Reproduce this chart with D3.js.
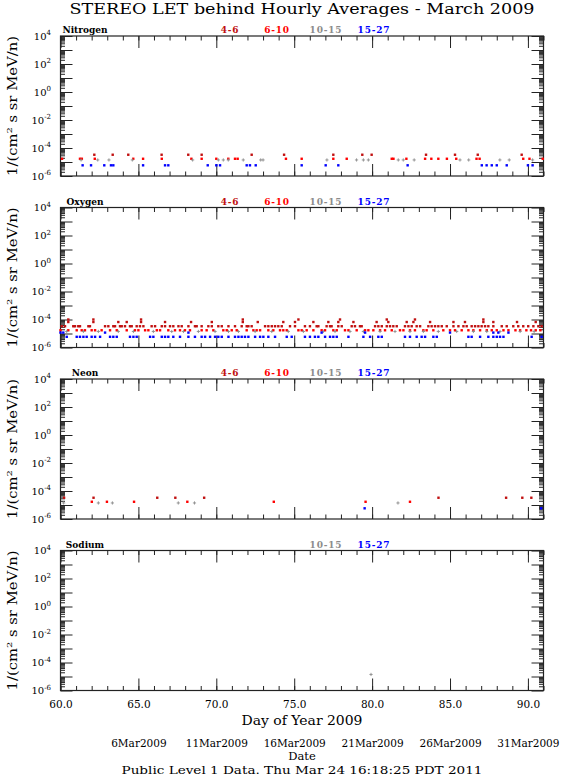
<!DOCTYPE html>
<html>
<head>
<meta charset="utf-8">
<script src="https://cdn.jsdelivr.net/npm/d3@7"></script>
<style>
  body { margin: 0; background: #fff; }
  text { font-family: "DejaVu Serif", serif; fill: #000; }
</style>
</head>
<body>
<div id="canvas"></div>
<script>
// axis values and labels
const dayDomain = [60, 91];
const xTickDays = [60, 65, 70, 75, 80, 85, 90];
const dateTickDays = [65, 70, 75, 80, 85, 90];
const dateTickLabels = ["6Mar2009", "11Mar2009", "16Mar2009", "21Mar2009", "26Mar2009", "31Mar2009"];
const fluxDomain = [1e-6, 1e4];
const yTickValues = [1e4, 1e2, 1e0, 1e-2, 1e-4, 1e-6];
const yTickExponents = ["4", "2", "0", "-2", "-4", "-6"];
const elementNames = ["Nitrogen", "Oxygen", "Neon", "Sodium"];
const binLabels = ["4-6", "6-10", "10-15", "15-27"];
const binColours = ["#c01010", "#ff0000", "#8c8c8c", "#0000ff"];
const panelBins = [[0, 1, 2, 3], [0, 1, 2, 3], [0, 1, 2, 3], [2, 3]];

// hourly averages, [day of year, flux]
const nitrogen46 = [[62.17,3.3e-5],[63.35,3.3e-5],[64.35,3.3e-5],[66.49,3.3e-5],[68.20,3.3e-5],[69.06,3.3e-5],[72.27,3.3e-5],[74.35,3.3e-5],[77.51,3.3e-5],[79.37,3.3e-5],[79.97,3.3e-5],[83.46,3.3e-5],[85.32,3.3e-5],[86.78,3.3e-5],[89.60,3.3e-5]];
const nitrogen610 = [[60.10,1.7e-5],[61.25,1.7e-5],[61.37,1.7e-5],[62.20,1.7e-5],[64.67,1.7e-5],[65.30,1.7e-5],[66.50,1.7e-5],[68.40,1.7e-5],[69.06,1.7e-5],[70.00,1.7e-5],[70.77,1.7e-5],[71.20,1.7e-5],[71.37,1.7e-5],[74.47,1.7e-5],[75.48,1.7e-5],[77.51,1.7e-5],[78.37,1.7e-5],[81.26,1.7e-5],[81.37,1.7e-5],[82.20,1.7e-5],[83.40,1.7e-5],[83.80,1.7e-5],[84.25,1.7e-5],[84.80,1.7e-5],[85.40,1.7e-5],[86.70,1.7e-5],[86.90,1.7e-5],[89.70,1.7e-5],[90.10,1.7e-5],[90.95,1.7e-5]];
const nitrogen1015 = [[61.32,1.4e-5],[62.39,1.4e-5],[63.11,1.4e-5],[64.61,1.4e-5],[68.48,1.4e-5],[70.13,1.4e-5],[70.45,1.4e-5],[70.77,1.4e-5],[71.73,1.4e-5],[72.85,1.4e-5],[73.00,1.4e-5],[77.10,1.4e-5],[79.00,1.4e-5],[79.44,1.4e-5],[79.76,1.4e-5],[81.68,1.4e-5],[82.00,1.4e-5],[82.70,1.4e-5],[85.64,1.4e-5],[86.20,1.4e-5],[88.20,1.4e-5],[88.80,1.4e-5],[90.30,1.4e-5]];
const nitrogen1527 = [[61.42,5.8e-6],[61.96,5.8e-6],[62.81,5.8e-6],[63.24,5.8e-6],[63.39,5.8e-6],[65.30,5.8e-6],[66.71,5.8e-6],[66.92,5.8e-6],[69.45,5.8e-6],[70.00,5.8e-6],[70.24,5.8e-6],[71.95,5.8e-6],[72.16,5.8e-6],[72.53,5.8e-6],[75.48,5.8e-6],[77.02,5.8e-6],[77.83,5.8e-6],[82.28,5.8e-6],[87.04,5.8e-6],[87.35,5.8e-6],[87.68,5.8e-6],[88.00,5.8e-6],[88.64,5.8e-6],[90.00,5.8e-6],[90.30,5.8e-6]];

const oxygen46 = [
  [60.08,3.3e-5],[60.29,3.3e-5],[60.82,3.3e-5],[60.93,3.3e-5],[61.14,3.3e-5],[61.25,3.3e-5],[61.79,3.3e-5],[61.89,3.3e-5],[62.86,3.3e-5],[63.07,3.3e-5],
  [63.39,3.3e-5],[63.50,3.3e-5],[63.82,3.3e-5],[63.93,3.3e-5],[64.14,3.3e-5],[64.46,3.3e-5],[64.57,3.3e-5],[64.89,3.3e-5],[65.10,3.3e-5],[65.32,3.3e-5],
  [65.85,3.3e-5],[66.07,3.3e-5],[66.50,3.3e-5],[66.71,3.3e-5],[67.03,3.3e-5],[67.24,3.3e-5],[67.57,3.3e-5],[67.78,3.3e-5],[68.21,3.3e-5],[68.63,3.3e-5],
  [68.74,3.3e-5],[69.06,3.3e-5],[69.49,3.3e-5],[69.71,3.3e-5],[70.13,3.3e-5],[70.35,3.3e-5],[70.78,3.3e-5],[71.20,3.3e-5],[71.63,3.3e-5],[71.95,3.3e-5],
  [72.06,3.3e-5],[72.27,3.3e-5],[73.13,3.3e-5],[73.34,3.3e-5],[73.56,3.3e-5],[73.77,3.3e-5],[73.98,3.3e-5],[74.20,3.3e-5],[74.73,3.3e-5],[75.05,3.3e-5],
  [75.69,3.3e-5],[76.01,3.3e-5],[76.44,3.3e-5],[76.55,3.3e-5],[77.08,3.3e-5],[77.30,3.3e-5],[77.40,3.3e-5],[77.83,3.3e-5],[78.05,3.3e-5],[78.69,3.3e-5],
  [78.90,3.3e-5],[79.22,3.3e-5],[79.33,3.3e-5],[80.19,3.3e-5],[80.40,3.3e-5],[80.62,3.3e-5],[80.94,3.3e-5],[81.15,3.3e-5],[81.36,3.3e-5],[81.58,3.3e-5],
  [82.11,3.3e-5],[82.33,3.3e-5],[82.54,3.3e-5],[82.86,3.3e-5],[83.08,3.3e-5],[83.61,3.3e-5],[83.82,3.3e-5],[84.04,3.3e-5],[84.25,3.3e-5],[84.47,3.3e-5],
  [84.79,3.3e-5],[85.22,3.3e-5],[85.54,3.3e-5],[85.86,3.3e-5],[86.07,3.3e-5],[86.39,3.3e-5],[86.61,3.3e-5],[86.82,3.3e-5],[87.03,3.3e-5],[87.25,3.3e-5],
  [87.46,3.3e-5],[87.78,3.3e-5],[88.32,3.3e-5],[88.64,3.3e-5],[89.06,3.3e-5],[89.38,3.3e-5],[89.70,3.3e-5],[90.02,3.3e-5],[90.35,3.3e-5],[90.67,3.3e-5],[90.88,3.3e-5],
  [60.50,6.6e-5],[62.11,6.6e-5],[63.71,6.6e-5],[64.25,6.6e-5],[65.17,6.6e-5],[66.71,6.6e-5],[68.38,6.6e-5],[69.71,6.6e-5],[71.70,6.6e-5],[72.66,6.6e-5],
  [74.30,6.6e-5],[75.05,6.6e-5],[76.23,6.6e-5],[77.19,6.6e-5],[77.83,6.6e-5],[78.80,6.6e-5],[80.29,6.6e-5],[81.04,6.6e-5],[82.22,6.6e-5],[82.65,6.6e-5],
  [83.72,6.6e-5],[85.22,6.6e-5],[85.96,6.6e-5],[87.14,6.6e-5],[87.78,6.6e-5],[89.30,6.6e-5],[90.50,6.6e-5],
  [60.50,1e-4],[62.11,1e-4],[65.17,1e-4],[71.70,1e-4],[75.27,1e-4],[77.94,1e-4],[80.94,1e-4],[82.75,1e-4],[87.14,1e-4]
];
const oxygen610 = [
  [60.00,1.7e-5],[60.50,1.7e-5],[61.04,1.7e-5],[61.36,1.7e-5],[61.57,1.7e-5],[62.00,1.7e-5],[62.22,1.7e-5],[62.64,1.7e-5],[63.18,1.7e-5],[63.61,1.7e-5],
  [64.25,1.7e-5],[64.78,1.7e-5],[65.00,1.7e-5],[65.43,1.7e-5],[65.64,1.7e-5],[66.18,1.7e-5],[66.39,1.7e-5],[66.92,1.7e-5],[67.35,1.7e-5],[67.67,1.7e-5],
  [67.99,1.7e-5],[68.31,1.7e-5],[69.06,1.7e-5],[69.38,1.7e-5],[69.81,1.7e-5],[70.45,1.7e-5],[70.67,1.7e-5],[70.99,1.7e-5],[71.31,1.7e-5],[71.95,1.7e-5],
  [72.38,1.7e-5],[72.59,1.7e-5],[72.81,1.7e-5],[73.34,1.7e-5],[73.66,1.7e-5],[74.09,1.7e-5],[74.30,1.7e-5],[74.52,1.7e-5],[75.27,1.7e-5],[75.48,1.7e-5],
  [75.80,1.7e-5],[76.23,1.7e-5],[76.76,1.7e-5],[76.98,1.7e-5],[77.51,1.7e-5],[77.73,1.7e-5],[78.26,1.7e-5],[78.48,1.7e-5],[79.01,1.7e-5],[79.55,1.7e-5],
  [79.76,1.7e-5],[80.08,1.7e-5],[80.51,1.7e-5],[80.83,1.7e-5],[81.26,1.7e-5],[81.79,1.7e-5],[82.01,1.7e-5],[82.43,1.7e-5],[82.75,1.7e-5],[83.29,1.7e-5],
  [83.50,1.7e-5],[83.93,1.7e-5],[84.57,1.7e-5],[85.00,1.7e-5],[85.32,1.7e-5],[85.75,1.7e-5],[86.18,1.7e-5],[86.50,1.7e-5],[86.93,1.7e-5],[87.36,1.7e-5],
  [87.68,1.7e-5],[88.00,1.7e-5],[88.43,1.7e-5],[88.75,1.7e-5],[89.20,1.7e-5],[89.50,1.7e-5],[89.90,1.7e-5],[90.20,1.7e-5],[90.50,1.7e-5],[90.80,1.7e-5]
];
const oxygen1015 = [
  [60.40,1.4e-5],[61.47,1.4e-5],[62.43,1.4e-5],[63.71,1.4e-5],[64.68,1.4e-5],[65.96,1.4e-5],[67.14,1.4e-5],[67.89,1.4e-5],[68.85,1.4e-5],[69.92,1.4e-5],
  [70.78,1.4e-5],[71.42,1.4e-5],[72.49,1.4e-5],[73.56,1.4e-5],[74.62,1.4e-5],[75.59,1.4e-5],[76.87,1.4e-5],[77.62,1.4e-5],[78.58,1.4e-5],[79.44,1.4e-5],
  [80.51,1.4e-5],[81.47,1.4e-5],[82.43,1.4e-5],[83.29,1.4e-5],[84.25,1.4e-5],[85.43,1.4e-5],[86.50,1.4e-5],[87.36,1.4e-5],[88.21,1.4e-5],[89.50,1.4e-5],[90.40,1.4e-5]
];
const oxygen1527 = [
  [60.40,5.8e-6],[61.04,5.8e-6],[61.25,5.8e-6],[61.47,5.8e-6],[61.68,5.8e-6],[62.00,5.8e-6],[62.22,5.8e-6],[62.54,5.8e-6],[63.18,5.8e-6],[63.39,5.8e-6],
  [63.61,5.8e-6],[64.46,5.8e-6],[64.68,5.8e-6],[64.89,5.8e-6],[65.75,5.8e-6],[65.96,5.8e-6],[66.50,5.8e-6],[66.71,5.8e-6],[66.92,5.8e-6],[67.24,5.8e-6],
  [67.67,5.8e-6],[68.21,5.8e-6],[68.63,5.8e-6],[69.06,5.8e-6],[69.28,5.8e-6],[69.60,5.8e-6],[69.92,5.8e-6],[70.13,5.8e-6],[70.35,5.8e-6],[70.78,5.8e-6],
  [71.20,5.8e-6],[71.42,5.8e-6],[71.63,5.8e-6],[71.84,5.8e-6],[72.06,5.8e-6],[72.49,5.8e-6],[72.81,5.8e-6],[73.02,5.8e-6],[73.34,5.8e-6],[73.77,5.8e-6],
  [74.52,5.8e-6],[74.84,5.8e-6],[75.69,5.8e-6],[76.01,5.8e-6],[76.33,5.8e-6],[76.55,5.8e-6],[76.98,5.8e-6],[77.30,5.8e-6],[77.51,5.8e-6],[77.73,5.8e-6],
  [78.48,5.8e-6],[79.44,5.8e-6],[79.87,5.8e-6],[80.40,5.8e-6],[80.62,5.8e-6],[82.11,5.8e-6],[82.43,5.8e-6],[82.86,5.8e-6],[83.18,5.8e-6],[83.40,5.8e-6],
  [83.93,5.8e-6],[84.15,5.8e-6],[86.18,5.8e-6],[86.39,5.8e-6],[86.93,5.8e-6],[87.46,5.8e-6],[87.78,5.8e-6],[88.00,5.8e-6],[88.21,5.8e-6],[88.43,5.8e-6],
  [90.24,5.8e-6],[90.88,5.8e-6],
  [60.00,1.16e-5],[60.18,1.16e-5],[62.86,1.16e-5],[68.21,1.16e-5],[76.76,1.16e-5],[79.55,1.16e-5],[85.00,1.16e-5],[87.78,1.16e-5],[88.10,1.16e-5],[88.75,1.16e-5]
];

const neon46 = [[60.23,3.3e-5],[62.12,3.3e-5],[66.21,3.3e-5],[67.37,3.3e-5],[69.22,3.3e-5],[84.26,3.3e-5],[88.60,3.3e-5],[89.64,3.3e-5],[90.22,3.3e-5]];
const neon610 = [[62.01,1.7e-5],[62.98,1.7e-5],[64.72,1.7e-5],[68.14,1.7e-5],[73.69,1.7e-5],[79.58,1.7e-5],[82.43,1.7e-5]];
const neon1015 = [[60.20,1.4e-5],[62.43,1.4e-5],[63.33,1.4e-5],[67.56,1.4e-5],[68.60,1.4e-5],[81.66,1.4e-5]];
const neon1527 = [[79.52,5.8e-6],[90.85,5.8e-6]];

const sodium1015 = [[79.93,1.4e-5]];
const sodium1527 = [];

const panelSeries = [
  [nitrogen46, nitrogen610, nitrogen1015, nitrogen1527],
  [oxygen46, oxygen610, oxygen1015, oxygen1527],
  [neon46, neon610, neon1015, neon1527],
  [[], [], sodium1015, sodium1527]
];

// layout
const width = 563, height = 777;
const plotLeft = 60.5, plotRight = 543.5;
const firstPanelTop = 36, panelStep = 171.5, panelHeight = 140;
const legendX = [230, 277, 326, 374];
const nameX = 85;

const svg = d3.select("#canvas")
  .append("svg")
  .attr("width", width)
  .attr("height", height);

const x = d3.scaleLinear().domain(dayDomain).range([plotLeft, plotRight]);

svg.append("text")
  .attr("x", (plotLeft + plotRight) / 2)
  .attr("y", 14.2)
  .attr("text-anchor", "middle")
  .attr("font-size", 15)
  .attr("textLength", 465)
  .attr("lengthAdjust", "spacingAndGlyphs")
  .text("STEREO LET behind Hourly Averages - March 2009");

const decades = d3.range(-6, 5).map(e => Math.pow(10, e));
const minorTicks = d3.range(-6, 4).flatMap(e => d3.range(2, 10).map(k => k * Math.pow(10, e)));
const dayTicks = d3.range(dayDomain[0], dayDomain[1] + 1);

function noDomain(g) {
  g.select(".domain").remove();
  g.selectAll("line").attr("stroke", "#222");
}

elementNames.forEach((name, i) => {
  const top = firstPanelTop + i * panelStep;
  const bottom = top + panelHeight;
  const y = d3.scaleLog().domain(fluxDomain).range([bottom, top]);
  const g = svg.append("g");

  // y axes both sides
  [[d3.axisLeft, plotLeft], [d3.axisRight, plotRight]].forEach(([axisFn, px]) => {
    g.append("g").attr("transform", "translate(" + px + ",0)")
      .call(axisFn(y).tickValues(minorTicks).tickSize(-4.5).tickSizeOuter(0).tickFormat(""))
      .call(noDomain);
    g.append("g").attr("transform", "translate(" + px + ",0)")
      .call(axisFn(y).tickValues(decades).tickSize(-12).tickSizeOuter(0).tickFormat(""))
      .call(noDomain);
  });

  // x axes top and bottom
  [[d3.axisBottom, bottom], [d3.axisTop, top]].forEach(([axisFn, py]) => {
    g.append("g").attr("transform", "translate(0," + py + ")")
      .call(axisFn(x).tickValues(dayTicks).tickSize(-4.5).tickSizeOuter(0).tickFormat(""))
      .call(noDomain);
    g.append("g").attr("transform", "translate(0," + py + ")")
      .call(axisFn(x).tickValues(xTickDays).tickSize(-12).tickSizeOuter(0).tickFormat(""))
      .call(noDomain);
  });

  g.append("rect")
    .attr("x", plotLeft).attr("y", top)
    .attr("width", plotRight - plotLeft).attr("height", panelHeight)
    .attr("fill", "none").attr("stroke", "#222").attr("stroke-width", 1.2);

  // y tick labels 10^n
  const labels = g.selectAll(".ylab")
    .data(yTickValues)
    .join("text")
    .attr("class", "ylab")
    .attr("x", 51)
    .attr("y", d => y(d) + 3.6)
    .attr("text-anchor", "end")
    .attr("font-size", 10);
  labels.append("tspan").text("10");
  labels.append("tspan").attr("dy", -4.5).attr("font-size", 7).text((d, j) => yTickExponents[j]);

  // y title
  const yTitle = g.append("text")
    .attr("transform", "translate(16.8," + (top + panelHeight / 2) + ") rotate(-90)")
    .attr("text-anchor", "middle")
    .attr("font-size", 12)
    .attr("textLength", 140)
    .attr("lengthAdjust", "spacingAndGlyphs");
  yTitle.append("tspan").text("1/(cm");
  yTitle.append("tspan").attr("dy", -5).attr("font-size", 8).text("2");
  yTitle.append("tspan").attr("dy", 5).text(" s sr MeV/n)");

  // legend
  g.append("text")
    .attr("x", nameX).attr("y", top - 3)
    .attr("text-anchor", "middle")
    .attr("font-size", 9).attr("font-weight", "bold")
    .text(name);
  g.selectAll(".bin")
    .data(panelBins[i])
    .join("text")
    .attr("class", "bin")
    .attr("x", b => legendX[b]).attr("y", top - 3)
    .attr("text-anchor", "middle")
    .attr("font-size", 9).attr("font-weight", "bold")
    .attr("letter-spacing", 0.8)
    .style("fill", b => binColours[b])
    .text(b => binLabels[b]);

  // points
  panelSeries[i].forEach((series, b) => {
    if (b === 2) {
      g.selectAll(null)
        .data(series)
        .join("path")
        .attr("d", d => "M" + (x(d[0]) - 1.6) + "," + y(d[1]) + "h3.2M" + x(d[0]) + "," + (y(d[1]) - 1.6) + "v3.2")
        .attr("stroke", binColours[b])
        .attr("stroke-width", 0.9);
    } else {
      g.selectAll(null)
        .data(series)
        .join("rect")
        .attr("x", d => x(d[0]) - 1.2)
        .attr("y", d => y(d[1]) - 1.2)
        .attr("width", 2.4)
        .attr("height", 2.4)
        .attr("fill", binColours[b]);
    }
  });
});

// day of year labels under the last panel
const lastBottom = firstPanelTop + 3 * panelStep + panelHeight;
svg.append("g")
  .attr("transform", "translate(0," + (lastBottom + 10.5) + ")")
  .call(d3.axisBottom(x).tickValues(xTickDays).tickFormat(d3.format(".1f")).tickSize(0).tickPadding(0))
  .call(g => g.select(".domain").remove())
  .call(g => g.selectAll("text").attr("font-size", 10.5).attr("font-family", "DejaVu Serif"));

svg.append("text")
  .attr("x", (plotLeft + plotRight) / 2).attr("y", 724.5)
  .attr("text-anchor", "middle")
  .attr("font-size", 12)
  .attr("textLength", 121)
  .attr("lengthAdjust", "spacingAndGlyphs")
  .text("Day of Year 2009");

// date axis
svg.append("g")
  .attr("transform", "translate(0,740)")
  .call(d3.axisBottom(x).tickValues(dateTickDays).tickFormat((d, i) => dateTickLabels[i]).tickSize(0).tickPadding(0))
  .call(g => g.select(".domain").remove())
  .call(g => g.selectAll("text").attr("font-size", 10.5).attr("font-family", "DejaVu Serif"));

svg.append("text")
  .attr("x", (plotLeft + plotRight) / 2).attr("y", 759.5)
  .attr("text-anchor", "middle")
  .attr("font-size", 11.5)
  .text("Date");

svg.append("text")
  .attr("x", (plotLeft + plotRight) / 2).attr("y", 773.5)
  .attr("text-anchor", "middle")
  .attr("font-size", 11.5)
  .attr("textLength", 361)
  .attr("lengthAdjust", "spacingAndGlyphs")
  .text("Public Level 1 Data. Thu Mar 24 16:18:25 PDT 2011");
</script>
</body>
</html>
